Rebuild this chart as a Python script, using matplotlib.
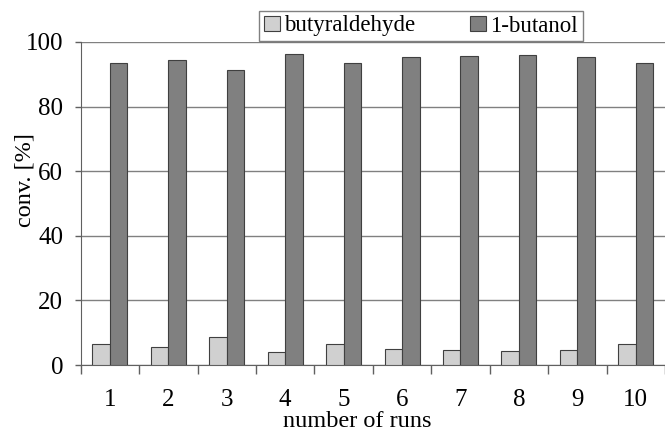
import matplotlib
matplotlib.use("Agg")
import matplotlib.pyplot as plt
import numpy as np

# data
runs = [1, 2, 3, 4, 5, 6, 7, 8, 9, 10]
butyraldehyde = [6.5, 5.7, 8.8, 3.9, 6.5, 4.9, 4.5, 4.3, 4.7, 6.5]
butanol = [93.6, 94.4, 91.2, 96.4, 93.6, 95.3, 95.7, 95.9, 95.5, 93.6]

plt.rcParams['font.family'] = ['Liberation Serif', 'DejaVu Serif']
plt.rcParams['font.size'] = 17

fig = plt.figure(figsize=(6.65, 4.32), dpi=100)
ax = fig.add_axes([80.7 / 665, 67 / 432, 1 - 80.7 / 665, 323 / 432])

x = np.array(runs)
w = 0.3
ax.bar(x - w / 2, butyraldehyde, width=w, color='#d0d0d0', edgecolor='#404040',
       linewidth=0.8, label='butyraldehyde', zorder=3)
ax.bar(x + w / 2, butanol, width=w, color='#808080', edgecolor='#404040',
       linewidth=0.8, label='1-butanol', zorder=3)

ax.set_xlim(0.5, 0.5 + 584.3 / 59.3)
ax.set_ylim(0, 100)
ax.set_yticks([0, 20, 40, 60, 80, 100])
ax.yaxis.grid(True, color='#808080', linewidth=1.0, zorder=0)
ax.tick_params(axis='y', length=4.5, width=1, color='#606060', pad=8, labelsize=18)

# labels at run centres, tick marks at group boundaries
ax.set_xticks(runs)
ax.set_xticklabels([str(r) for r in runs])
ax.set_xticks(np.arange(0.5, 11, 1), minor=True)
ax.tick_params(axis='x', which='major', length=0, pad=17, labelsize=18)
ax.tick_params(axis='x', which='minor', length=6.5, width=1, color='#606060')

for s in ['top', 'right']:
    ax.spines[s].set_visible(False)
ax.spines['left'].set_color('#606060')
ax.spines['bottom'].set_color('#606060')

fig.text(357 / 665, 0, 'number of runs', ha='center', va='bottom', fontsize=17.5)
fig.text(25 / 665, 1 - 180 / 432, 'conv. [%]', rotation=90, ha='center', va='center', fontsize=17.5)

leg = ax.legend(loc='center', bbox_to_anchor=(421 / 665, 1 - 26 / 432),
                bbox_transform=fig.transFigure, ncol=2, frameon=True, fancybox=False,
                handlelength=0.68, handleheight=0.68, handletextpad=0.2,
                columnspacing=2.4, borderpad=0.2, fontsize=16.5)
leg.get_frame().set_edgecolor('#606060')
leg.get_frame().set_linewidth(1.0)

plt.savefig('out.png', dpi=100)
